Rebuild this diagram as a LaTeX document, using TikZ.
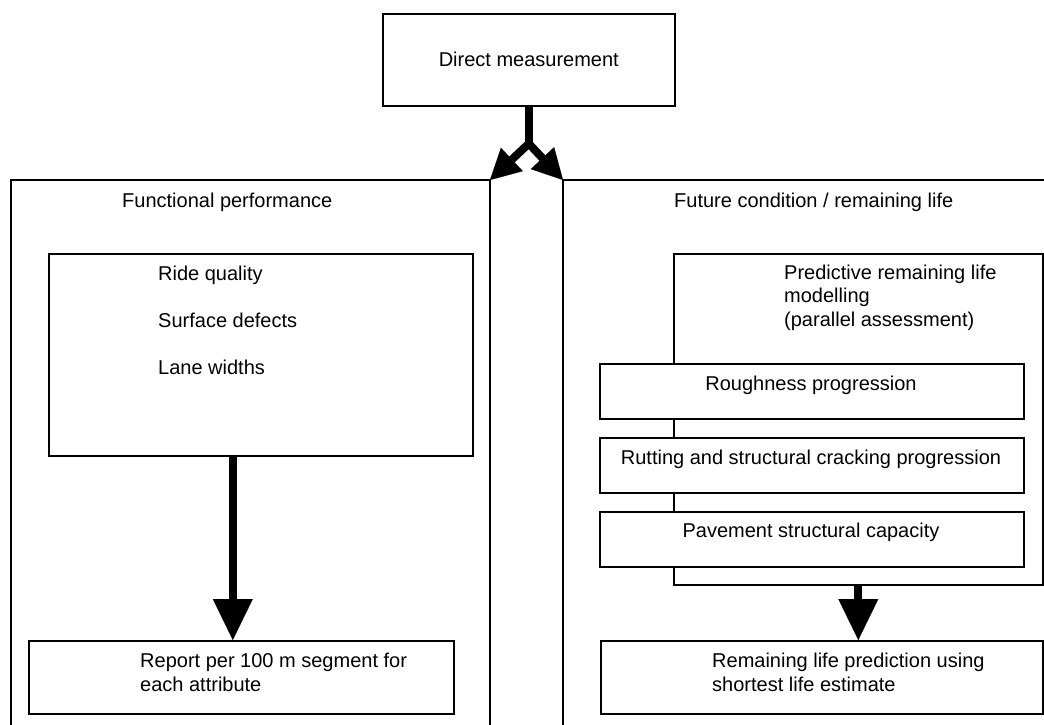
\documentclass[tikz,border=0pt]{standalone}
\usepackage{fontspec}
\setmainfont{Liberation Sans}
\usetikzlibrary{arrows.meta,positioning,calc}
\tikzset{
  box/.style={draw,line width=1.6pt,inner sep=0pt,anchor=north west,fill=white},
  txt/.style={inner sep=0pt,font=\fontsize{20}{23.5}\selectfont,align=left},
  panel/.style={line width=1.6pt},
  fat/.style={line width=8pt,-{Triangle[length=41pt,width=40pt,line width=0.1pt]}},
  fork/.style={line width=8pt,line join=miter,
    {Triangle[length=30pt,width=32pt,line width=0.1pt]}-{Triangle[length=30pt,width=32pt,line width=0.1pt]}},
}

\begin{document}
\begin{tikzpicture}[x=1pt,y=-1pt]
  \useasboundingbox (0,0) rectangle (1044,724);
  % top box and fork
  \node[box,txt,minimum width=292pt,minimum height=92pt,align=center] (direct) at (382,13) {Direct measurement};
  \coordinate (lefttop) at (490,180);
  \coordinate (righttop) at (563,180);
  \coordinate (split) at ($(direct.south)+(0,37)$);
  \draw[line width=8pt] (direct.south) -- (split);
  \draw[fork] (lefttop) -- (split) -- (righttop);
  % panels
  \draw[panel] (11,726) -- (11,180) -- (lefttop) -- (490,726);
  \draw[panel] (1046,180) -- (righttop) -- (563,726);
  \node[txt,anchor=base west] (functional) at (122,207) {Functional performance};
  \node[txt,anchor=base west] (future) at (674,207) {Future condition / remaining life};
  % left column
  \node[box,minimum width=424pt,minimum height=202pt] (attrbox) at (48,253) {};
  \node[txt,anchor=base west] (attr) at (158,374) {Ride quality\\[23.5pt]Surface defects\\[23.5pt]Lane widths};
  \node[box,minimum width=425pt,minimum height=73pt] (report) at (28,640) {};
  \node[txt,anchor=base west] (reporttxt) at (140,691) {Report per 100 m segment for\\each attribute};
  \draw[fat] ([xshift=-28pt]attrbox.south) coordinate (a1) -- (a1 |- report.north);
  % right column
  \node[box,minimum width=369pt,minimum height=331pt] (predictive) at (673,253) {};
  \node[txt,anchor=base west] (predtxt) at (784,326) {Predictive remaining life\\modelling\\(parallel assessment)};
  \node[box,minimum width=424pt,minimum height=55pt] (rough) at (599,363) {};
  \node[txt,anchor=base] (roughtxt) at (811,390) {Roughness progression};
  \node[box,minimum width=424pt,minimum height=55pt] (rut) at (599,437) {};
  \node[txt,anchor=base] (ruttxt) at (811,464) {Rutting and structural cracking progression};
  \node[box,minimum width=424pt,minimum height=55pt] (capacity) at (599,511) {};
  \node[txt,anchor=base] (capacitytxt) at (811,537) {Pavement structural capacity};
  \node[box,minimum width=442pt,minimum height=73pt] (remaining) at (600,640) {};
  \node[txt,anchor=base west] (remainingtxt) at (712,691) {Remaining life prediction using\\shortest life estimate};
  \draw[fat] (predictive.south) -- (predictive.south |- remaining.north);
\end{tikzpicture}
\end{document}
